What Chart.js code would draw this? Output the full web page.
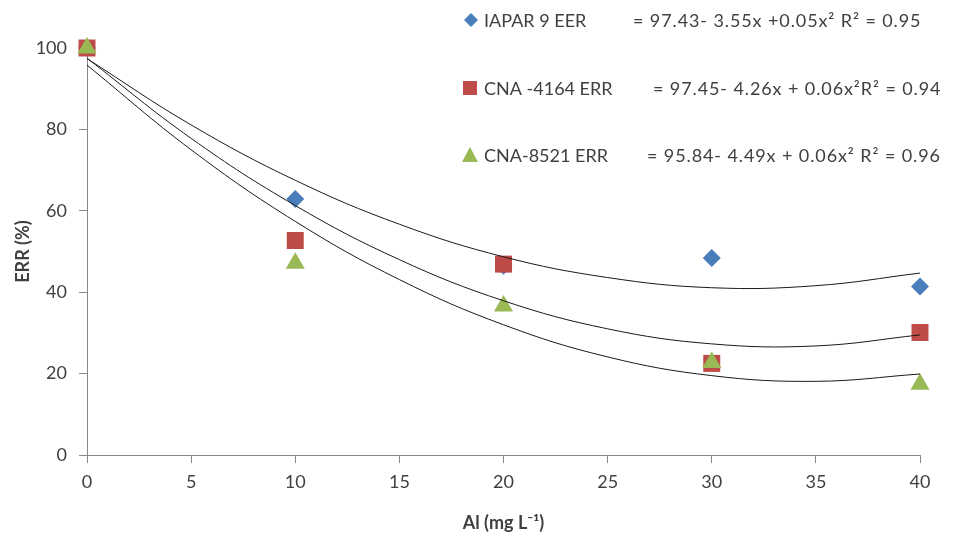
<!DOCTYPE html>
<html>
<head>
<meta charset="utf-8">
<script src="https://cdn.jsdelivr.net/npm/chart.js@4.4.0/dist/chart.umd.min.js"></script>
<style>
  html, body { margin: 0; padding: 0; background: #fff; }
</style>
</head>
<body>
<canvas id="errChart" width="963" height="540"></canvas>
<script>
// Al levels (mg L-1) where ERR was measured
const alLevels = [0, 10, 20, 30, 40];
const iaparErr = [100, 62.9, 46.5, 48.4, 41.4];
const cna4164Err = [100, 52.7, 46.9, 22.5, 30.1];
const cna8521Err = [100, 47.1, 36.6, 22.7, 17.4];

// fitted curves, every 5 mg L-1
const trendX = [0, 5, 10, 15, 20, 25, 30, 35, 40];
const iaparTrend = [97.4, 81.1, 67.5, 56.7, 48.7, 43.6, 41.1, 41.6, 44.7];
const cna4164Trend = [97.5, 77.8, 61.3, 48.0, 37.9, 31.0, 27.3, 26.8, 29.5];
const cna8521Trend = [95.8, 75.0, 57.4, 43.1, 32.0, 24.1, 19.5, 18.1, 19.9];

const seriesNames = ['IAPAR 9 EER', 'CNA -4164 ERR', 'CNA-8521 ERR'];
const equations = [
    '= 97.43- 3.55x +0.05x\u00B2 R\u00B2 = 0.95',
    '= 97.45- 4.26x + 0.06x\u00B2R\u00B2 = 0.94',
    '= 95.84- 4.49x + 0.06x\u00B2 R\u00B2 = 0.96'
];
const xTicks = [0, 5, 10, 15, 20, 25, 30, 35, 40];
const yTicks = [0, 20, 40, 60, 80, 100];

const colors = ['#4A7EBB', '#BE4B48', '#98B954'];
const textColor = '#404040';
const axisColor = '#888888';

function toPoints(xs, ys) {
    return xs.map((x, i) => ({ x: x, y: ys[i] }));
}

function markerSet(label, values, color, style, radius, order) {
    return {
        label: label,
        data: toPoints(alLevels, values),
        showLine: false,
        pointStyle: style,
        pointRadius: radius,
        pointHoverRadius: radius,
        pointBackgroundColor: color,
        pointBorderColor: color,
        pointBorderWidth: 0,
        clip: false,
        order: order
    };
}

function trendSet(values) {
    return {
        label: 'trend',
        data: toPoints(trendX, values),
        showLine: true,
        borderColor: '#1a1a1a',
        borderWidth: 1,
        pointRadius: 0,
        tension: 0.4,
        fill: false,
        clip: false,
        order: 0
    };
}

// Legend with the regression equations, drawn in the upper right
const equationLegend = {
    id: 'equationLegend',
    afterDraw(chart) {
        const ctx = chart.ctx;
        const rows = [
            { y: 20, mx: 471, eqX: 633 },
            { y: 88, mx: 470, eqX: 653 },
            { y: 155, mx: 470, eqX: 647 }
        ];
        ctx.save();
        rows.forEach((row, i) => {
            ctx.fillStyle = colors[i];
            ctx.beginPath();
            if (i === 0) {
                ctx.moveTo(row.mx - 7, row.y);
                ctx.lineTo(row.mx, row.y - 7);
                ctx.lineTo(row.mx + 7, row.y);
                ctx.lineTo(row.mx, row.y + 7);
            } else if (i === 1) {
                ctx.rect(row.mx - 7, row.y - 7, 14, 14);
            } else {
                ctx.moveTo(row.mx, row.y - 8);
                ctx.lineTo(row.mx + 8, row.y + 7);
                ctx.lineTo(row.mx - 8, row.y + 7);
            }
            ctx.closePath();
            ctx.fill();

            ctx.fillStyle = textColor;
            ctx.font = '18px Lato';
            ctx.textBaseline = 'middle';
            ctx.textAlign = 'left';
            ctx.letterSpacing = '0px';
            ctx.fillText(seriesNames[i], 484, row.y + 1);
            ctx.letterSpacing = '0.9px';
            ctx.fillText(equations[i], row.eqX, row.y + 1);
        });
        ctx.restore();
    }
};

const ctx = document.getElementById('errChart').getContext('2d');
const errChart = new Chart(ctx, {
    type: 'scatter',
    data: {
        datasets: [
            trendSet(iaparTrend),
            trendSet(cna4164Trend),
            trendSet(cna8521Trend),
            markerSet(seriesNames[0], iaparErr, colors[0], 'rectRot', 9, 3),
            markerSet(seriesNames[1], cna4164Err, colors[1], 'rect', 12, 2),
            markerSet(seriesNames[2], cna8521Err, colors[2], 'triangle', 11, 1)
        ]
    },
    options: {
        responsive: false,
        animation: false,
        layout: {
            padding: { left: 0, top: 48, right: 43, bottom: 0 }
        },
        plugins: {
            legend: { display: false },
            tooltip: { enabled: false }
        },
        scales: {
            x: {
                type: 'linear',
                min: 0,
                max: 40,
                afterBuildTicks: s => { s.ticks = xTicks.map(v => ({ value: v })); },
                afterFit: s => { s.height = 85; },
                grid: { drawOnChartArea: false, tickLength: 8, color: axisColor },
                border: { color: axisColor },
                ticks: { color: textColor, font: { family: 'Lato', size: 18 }, padding: 8 },
                title: {
                    display: true,
                    text: 'Al (mg L\u207B\u00B9)',
                    color: textColor,
                    font: { family: 'Lato', size: 18, weight: 'bold' },
                    padding: { top: 4, bottom: 6 }
                }
            },
            y: {
                type: 'linear',
                min: 0,
                max: 100,
                afterBuildTicks: s => { s.ticks = yTicks.map(v => ({ value: v })); },
                afterFit: s => { s.width = 87; },
                grid: { drawOnChartArea: false, tickLength: 8, color: axisColor },
                border: { color: axisColor },
                ticks: { color: textColor, font: { family: 'Lato', size: 18 }, padding: 12 },
                title: {
                    display: true,
                    text: 'ERR (%)',
                    color: textColor,
                    font: { family: 'Lato', size: 18, weight: 'bold' },
                    padding: { top: 12, bottom: 4 }
                }
            }
        }
    },
    plugins: [equationLegend]
});
</script>
</body>
</html>
